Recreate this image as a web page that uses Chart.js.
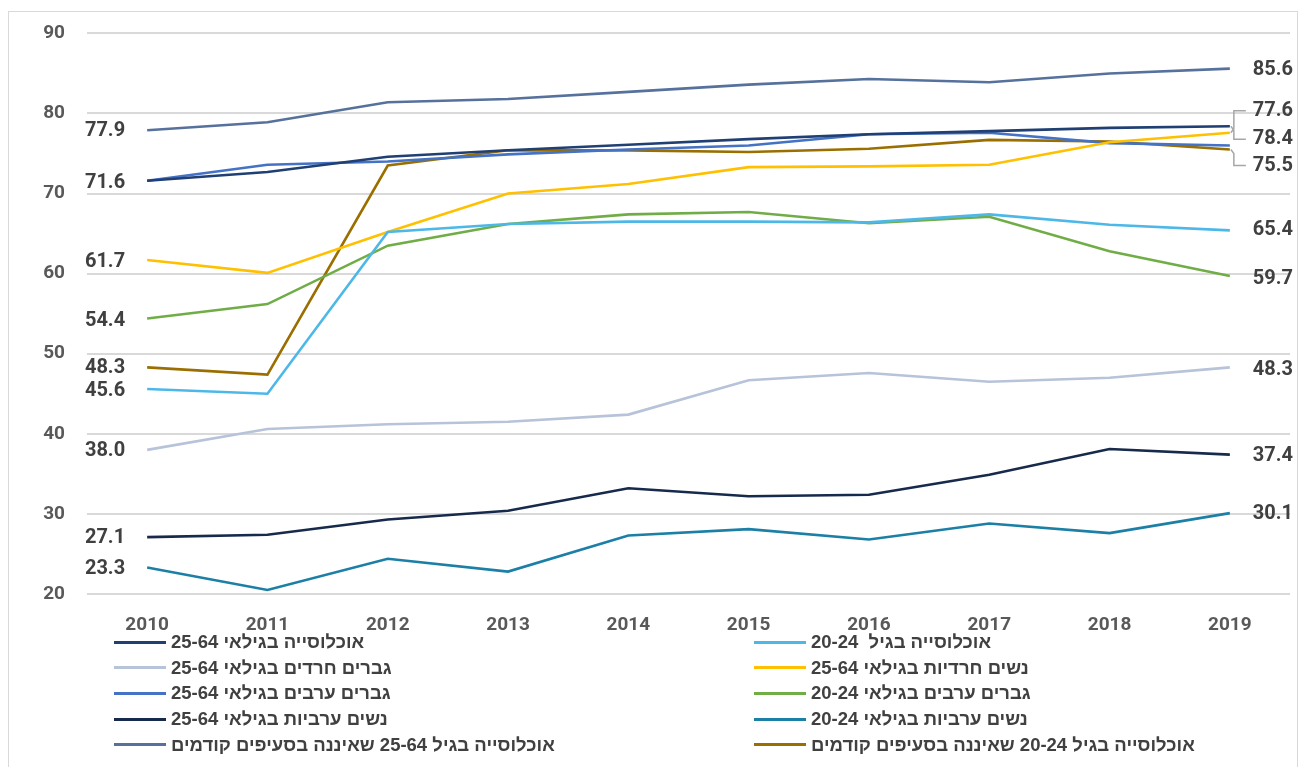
<!DOCTYPE html>
<html lang="he">
<head>
<meta charset="utf-8">
<script src="https://cdn.jsdelivr.net/npm/chart.js@4"></script>
<style>
  html, body { margin: 0; padding: 0; background: #fff; }
  body { width: 1306px; height: 767px; position: relative; overflow: hidden; font-family: "Liberation Sans", "DejaVu Sans", sans-serif; }
  #frame { position: absolute; left: 8px; top: 11px; width: 1290px; height: 800px; border: 1px solid #d9d9d9; box-sizing: border-box; }
  #wrap { position: absolute; left: 0; top: 0; width: 1306px; height: 650px; }
  #legend { position: absolute; left: 0; top: 629px; width: 1306px; height: 140px; }
  .item { position: absolute; display: flex; align-items: center; height: 26px; }
  .swatch { display: inline-block; height: 3px; margin-right: 5px; }
  .txt { direction: rtl; unicode-bidi: embed; font-size: 18.5px; font-weight: bold; color: #404040; white-space: pre; }
</style>
</head>
<body>
<div id="frame"></div>
<div id="wrap"><canvas id="c"></canvas></div>
<div id="legend"></div>
<script>
// ---- data ----
const years = ["2010","2011","2012","2013","2014","2015","2016","2017","2018","2019"];
const seriesNames = [
  "אוכלוסייה בגילאי 25-64",
  "אוכלוסייה בגיל  20-24",
  "גברים חרדים בגילאי 25-64",
  "נשים חרדיות בגילאי 25-64",
  "גברים ערבים בגילאי 25-64",
  "גברים ערבים בגילאי 20-24",
  "נשים ערביות בגילאי 25-64",
  "נשים ערביות בגילאי 20-24",
  "אוכלוסייה בגיל 25-64 שאיננה בסעיפים קודמים",
  "אוכלוסייה בגיל 20-24 שאיננה בסעיפים קודמים"
];
const total2564       = [71.6, 72.7, 74.6, 75.4, 76.1, 76.8, 77.4, 77.8, 78.2, 78.4];
const total2024       = [45.6, 45.0, 65.2, 66.2, 66.5, 66.5, 66.4, 67.4, 66.1, 65.4];
const harediMen2564   = [38.0, 40.6, 41.2, 41.5, 42.4, 46.7, 47.6, 46.5, 47.0, 48.3];
const harediWomen2564 = [61.7, 60.1, 65.2, 70.0, 71.2, 73.3, 73.4, 73.6, 76.4, 77.6];
const arabMen2564     = [71.6, 73.6, 74.0, 74.9, 75.5, 76.0, 77.4, 77.6, 76.3, 76.0];
const arabMen2024     = [54.4, 56.2, 63.5, 66.2, 67.4, 67.7, 66.3, 67.1, 62.8, 59.7];
const arabWomen2564   = [27.1, 27.4, 29.3, 30.4, 33.2, 32.2, 32.4, 34.9, 38.1, 37.4];
const arabWomen2024   = [23.3, 20.5, 24.4, 22.8, 27.3, 28.1, 26.8, 28.8, 27.6, 30.1];
const rest2564        = [77.9, 78.9, 81.4, 81.8, 82.7, 83.6, 84.3, 83.9, 85.0, 85.6];
const rest2024        = [48.3, 47.4, 73.5, 75.4, 75.4, 75.2, 75.6, 76.7, 76.5, 75.5];
const yTicks = [20, 30, 40, 50, 60, 70, 80, 90];

// ---- styles ----
const colors = ["#203F73", "#4DB8E8", "#B7C3D9", "#FFC000", "#4472C4", "#70AD47", "#172A4C", "#1C7FA6", "#56719C", "#9A6F00"];
const allSeries = [total2564, total2024, harediMen2564, harediWomen2564, arabMen2564, arabMen2024, arabWomen2564, arabWomen2024, rest2564, rest2024];
// which series get end labels, and label vertical shifts (px)
const showLeft  = [true, true, true, true, false, true, true, true, true, true];
const showRight = [true, true, true, true, false, true, true, true, true, true];
const rightShift = [13, 0, 3, -22, 0, 3, 1, 1, 1, 16];
const leftShift  = [2, 2, 1, 2, 0, 2, 1, 1, 1, 1];

const datasets = allSeries.map((d, i) => ({
  label: seriesNames[i],
  data: d,
  borderColor: colors[i],
  backgroundColor: colors[i],
  borderWidth: 2.6,
  pointRadius: 0,
  tension: 0,
  fill: false
}));

const endLabels = {
  id: 'endLabels',
  afterDatasetsDraw(chart) {
    const ctx = chart.ctx;
    ctx.save();
    ctx.font = 'bold 20px Roboto, "Liberation Sans", sans-serif';
    ctx.fillStyle = '#404040';
    ctx.textBaseline = 'middle';
    chart.data.datasets.forEach((ds, i) => {
      const meta = chart.getDatasetMeta(i);
      const first = meta.data[0], last = meta.data[meta.data.length - 1];
      if (showLeft[i]) {
        ctx.textAlign = 'right';
        ctx.fillText(ds.data[0].toFixed(1), first.x - 22, first.y + leftShift[i]);
      }
      if (showRight[i]) {
        ctx.textAlign = 'left';
        const ly = last.y + rightShift[i];
        if (Math.abs(rightShift[i]) > 6) {
          ctx.save();
          ctx.strokeStyle = '#a6a6a6';
          ctx.lineWidth = 1.5;
          ctx.beginPath();
          const dir = Math.sign(rightShift[i]);
          ctx.moveTo(last.x + 1, last.y);
          ctx.lineTo(last.x + 4, last.y + dir * 4);
          ctx.lineTo(last.x + 4, ly);
          ctx.lineTo(last.x + 16, ly);
          ctx.stroke();
          ctx.restore();
        }
        ctx.fillText(ds.data[ds.data.length - 1].toFixed(1), last.x + 23, ly);
      }
    });
    ctx.restore();
  }
};

new Chart(document.getElementById('c'), {
  type: 'line',
  data: { labels: years, datasets },
  options: {
    responsive: true,
    maintainAspectRatio: false,
    animation: false,
    layout: { padding: { top: 32, right: 16, left: 0, bottom: 0 } },
    plugins: { legend: { display: false }, tooltip: { enabled: false } },
    scales: {
      x: {
        offset: true,
        grid: { display: false, drawTicks: false },
        border: { display: false },
        ticks: { color: '#595959', font: { family: 'Roboto', weight: 'bold', size: 19 }, padding: 20, maxRotation: 0 },
        afterFit(s) { s.height = 56; }
      },
      y: {
        min: 20, max: 90,
        afterBuildTicks(s) { s.ticks = yTicks.map(v => ({ value: v })); },
        grid: { color: '#d9d9d9', lineWidth: 2, drawTicks: false },
        border: { display: false },
        ticks: { color: '#595959', font: { family: 'Roboto', weight: 'bold', size: 19 }, padding: 22 },
        afterFit(s) { s.width = 87; }
      }
    }
  },
  plugins: [endLabels]
});

// ---- HTML legend in two columns ----
const legend = document.getElementById('legend');
const colX = [114, 754];
const swW = [52, 52];
seriesNames.forEach((name, i) => {
  const col = i % 2, row = Math.floor(i / 2);
  const el = document.createElement('div');
  el.className = 'item';
  el.style.left = colX[col] + 'px';
  el.style.top = (row * 25.7) + 'px';
  const sw = document.createElement('span');
  sw.className = 'swatch';
  sw.style.width = swW[col] + 'px';
  sw.style.background = colors[i];
  const tx = document.createElement('span');
  tx.className = 'txt';
  tx.textContent = name;
  el.appendChild(sw); el.appendChild(tx);
  legend.appendChild(el);
});
</script>
</body>
</html>
